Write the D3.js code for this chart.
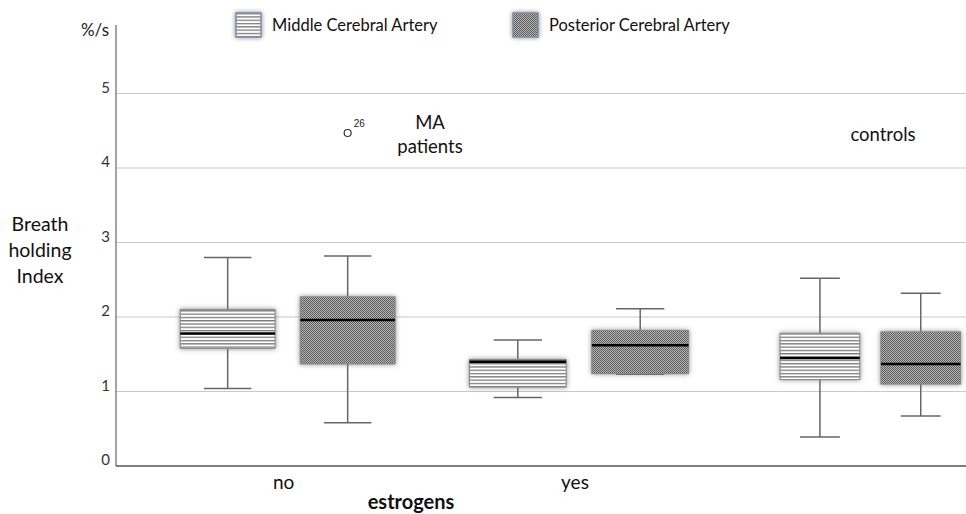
<!DOCTYPE html>
<html><head><meta charset="utf-8">
<script src="https://cdn.jsdelivr.net/npm/d3@7"></script>
<style>body{margin:0;background:#fff}svg{display:block}</style>
</head><body><svg id="c" width="966" height="514"></svg>
<script>
const groups = ["no", "yes", "controls"];
const groupLabels = ["no", "yes", ""];
const series = ["Middle Cerebral Artery", "Posterior Cerebral Artery"];
// [lowWhisker, Q1, median, Q3, highWhisker] per group
const mcaStats = [[1.04, 1.58, 1.78, 2.10, 2.80], [0.92, 1.06, 1.40, 1.43, 1.69], [0.39, 1.16, 1.45, 1.78, 2.52]];
const pcaStats = [[0.58, 1.37, 1.96, 2.27, 2.82], [1.23, 1.24, 1.62, 1.82, 2.11], [0.67, 1.10, 1.37, 1.80, 2.32]];
const outliers = [{group: "no", series: 1, value: 4.47, label: "26"}];
const yTicks = [0, 1, 2, 3, 4, 5];
const annotations = [{group: "no", lines: ["MA", "patients"]}, {group: "controls", lines: ["controls"]}];

const svg = d3.select("#c");
const font = "Lato, 'Open Sans', sans-serif";
const left = 116, right = 966, bottom = 466;
const y = d3.scaleLinear().domain([0, 5]).range([bottom, 93.5]);
const x = d3.scaleBand().domain(groups).range([142, 1016]);
const inner = d3.scaleBand().domain([0, 1]).range([-120, 120]);
const groupScale = {no: 1, yes: 1.02, controls: 0.84};

const defs = svg.append("defs");
const pm = defs.append("pattern").attr("id", "pMCA").attr("patternUnits", "userSpaceOnUse").attr("width", 6).attr("height", 3.3);
pm.append("rect").attr("width", 6).attr("height", 3.3).attr("fill", "#fff");
pm.append("rect").attr("y", 0).attr("width", 6).attr("height", 1.3).attr("fill", "#7a7a7a");
const pp = defs.append("pattern").attr("id", "pPCA").attr("patternUnits", "userSpaceOnUse").attr("width", 2).attr("height", 2);
pp.append("rect").attr("width", 2).attr("height", 2).attr("fill", "#b8b8b8");
pp.append("rect").attr("width", 1).attr("height", 1).attr("fill", "#5a5a5a");
pp.append("rect").attr("x", 1).attr("y", 1).attr("width", 1).attr("height", 1).attr("fill", "#5a5a5a");
const f = defs.append("filter").attr("id", "glow").attr("x", "-20%").attr("y", "-20%").attr("width", "140%").attr("height", "140%");
f.append("feDropShadow").attr("dx", 0).attr("dy", 0).attr("stdDeviation", 2.5).attr("flood-color", "#777").attr("flood-opacity", 0.85);

// gridlines
svg.append("g").selectAll("line").data(yTicks.filter(d => d > 0)).join("line")
  .attr("x1", left).attr("x2", right).attr("y1", d => y(d)).attr("y2", d => y(d))
  .attr("stroke", "#c8c8c8").attr("stroke-width", 1.2);

// axes
svg.append("line").attr("x1", left).attr("x2", left).attr("y1", y(5.92)).attr("y2", bottom).attr("stroke", "#666").attr("stroke-width", 1.2);
svg.append("line").attr("x1", left).attr("x2", right).attr("y1", bottom).attr("y2", bottom).attr("stroke", "#555").attr("stroke-width", 1.5);

svg.append("g").selectAll("text").data(yTicks).join("text")
  .attr("x", 110).attr("y", d => y(d) - 6).attr("dy", "0.35em").attr("text-anchor", "end")
  .attr("font-family", font).attr("font-size", 15).attr("fill", "#333").text(d => d);
svg.append("text").attr("x", 109).attr("y", 30).attr("dy", "0.35em").attr("text-anchor", "end")
  .attr("font-family", font).attr("font-size", 17).attr("fill", "#222").text("%/s");
svg.append("text").attr("font-family", font).attr("font-size", 19.5).attr("fill", "#111").attr("text-anchor", "middle")
  .selectAll("tspan").data(["Breath", "holding", "Index"]).join("tspan")
  .attr("x", 40).attr("y", (d, i) => 231 + i * 26).text(d => d);

svg.append("g").selectAll("text").data(groups).join("text")
  .attr("x", d => x(d) + x.bandwidth() / 2 - 4).attr("y", 489).attr("text-anchor", "middle")
  .attr("font-family", font).attr("font-size", 19).attr("fill", "#111").text((d, i) => groupLabels[i]);
svg.append("text").attr("x", 411).attr("y", 509).attr("text-anchor", "middle")
  .attr("font-family", font).attr("font-size", 20).attr("font-weight", "bold").attr("fill", "#111").text("estrogens");

// boxes
const allStats = [mcaStats, pcaStats];
const boxes = [];
groups.forEach((g, gi) => allStats.forEach((st, si) => boxes.push({g, si, s: st[gi]})));
function cx(g, si) { return x(g) + x.bandwidth() / 2 + (inner(si) + inner.bandwidth() / 2) * groupScale[g]; }
const bw = g => inner.bandwidth() * 0.79 * groupScale[g];
const bg = svg.append("g");
boxes.forEach(b => {
  const c = cx(b.g, b.si), w = bw(b.g), s = b.s;
  const gg = bg.append("g");
  gg.append("line").attr("x1", c).attr("x2", c).attr("y1", y(s[0])).attr("y2", y(s[1])).attr("stroke", "#666").attr("stroke-width", 1.5);
  gg.append("line").attr("x1", c).attr("x2", c).attr("y1", y(s[3])).attr("y2", y(s[4])).attr("stroke", "#666").attr("stroke-width", 1.5);
  [s[0], s[4]].forEach(v => gg.append("line").attr("x1", c - w / 4).attr("x2", c + w / 4).attr("y1", y(v)).attr("y2", y(v)).attr("stroke", "#666").attr("stroke-width", 1.5));
  gg.append("rect").attr("x", c - w / 2).attr("y", y(s[3])).attr("width", w).attr("height", y(s[1]) - y(s[3]))
    .attr("fill", b.si === 0 ? "url(#pMCA)" : "url(#pPCA)").attr("stroke", "#888").attr("stroke-width", 1).attr("filter", "url(#glow)");
  gg.append("line").attr("x1", c - w / 2).attr("x2", c + w / 2).attr("y1", y(s[2])).attr("y2", y(s[2])).attr("stroke", "#000").attr("stroke-width", 2.5);
});

// outliers
outliers.forEach(o => {
  const c = cx(o.group, o.series);
  svg.append("circle").attr("cx", c).attr("cy", y(o.value)).attr("r", 3.5).attr("fill", "#fff").attr("stroke", "#333").attr("stroke-width", 1.2);
  svg.append("text").attr("x", c + 6).attr("y", y(o.value) - 6).attr("font-family", "'Liberation Sans', Arial, sans-serif")
    .attr("font-size", 10).attr("fill", "#222").text(o.label);
});

// annotations
const annPos = {no: [430, 129], controls: [883, 141]};
annotations.forEach(a => {
  svg.append("text").attr("font-family", font).attr("font-size", 18.5).attr("fill", "#111").attr("text-anchor", "middle")
    .selectAll("tspan").data(a.lines).join("tspan").attr("x", annPos[a.group][0]).attr("y", (d, i) => annPos[a.group][1] + i * 24).text(d => d);
});

// legend
const legX = [236, 513];
series.forEach((s, i) => {
  const g = svg.append("g").attr("transform", `translate(${legX[i]},13)`);
  g.append("rect").attr("width", 25).attr("height", 24).attr("fill", i === 0 ? "url(#pMCA)" : "url(#pPCA)")
    .attr("stroke", "#7f8ea3").attr("stroke-width", 1.5).attr("filter", "url(#glow)");
  g.append("text").attr("x", 36).attr("y", 12).attr("dy", "0.35em").attr("font-family", font).attr("font-size", 16.5).attr("fill", "#111").text(s);
});
</script></body></html>
